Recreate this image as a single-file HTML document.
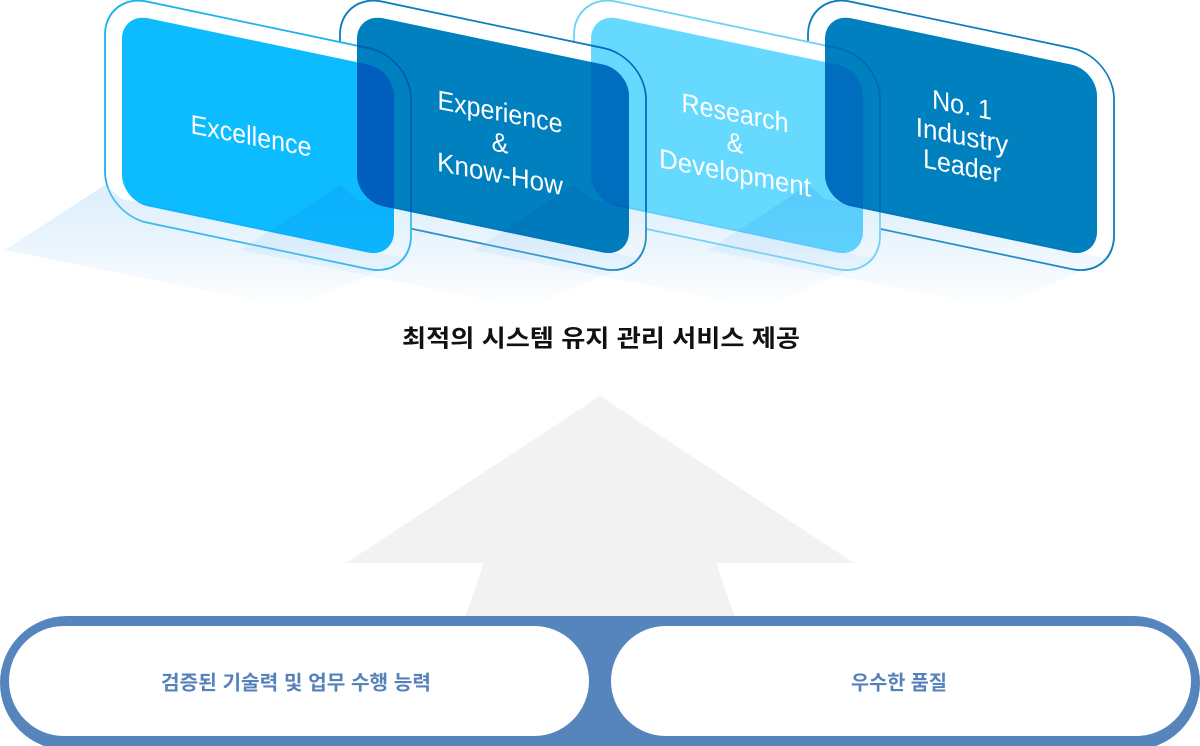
<!DOCTYPE html>
<html>
<head>
<meta charset="utf-8">
<style>
  html,body{margin:0;padding:0;background:#fff;}
  svg{display:block;}
  .ct{font-family:"Liberation Sans",Arial,sans-serif;font-size:25px;fill:#fff;}
  .kr{font-family:"Liberation Sans","Noto Sans CJK KR",sans-serif;font-weight:bold;}
</style>
</head>
<body>
<svg width="1200" height="746" viewBox="0 0 1200 746" xmlns="http://www.w3.org/2000/svg">
  <defs>
    <linearGradient id="sh" gradientUnits="userSpaceOnUse" x1="0" y1="185" x2="0" y2="310">
      <stop offset="0" stop-color="rgb(156,207,245)" stop-opacity="0.36"/>
      <stop offset="0.55" stop-color="rgb(156,207,245)" stop-opacity="0.18"/>
      <stop offset="1" stop-color="rgb(156,207,245)" stop-opacity="0"/>
    </linearGradient>
  </defs>

  <rect x="0" y="0" width="1200" height="746" fill="#ffffff"/>

  <!-- outlines (right to left so left cards sit on top) -->
  <g transform="translate(825,12.8) skewY(11.86)">
    <rect x="-17" y="-16.5" width="306" height="221" rx="42" ry="42" fill="#fff" stroke="#0B7DBD" stroke-width="1.8"/>
  </g>
  <g transform="translate(591,12.8) skewY(11.86)">
    <rect x="-17" y="-16.5" width="306" height="221" rx="42" ry="42" fill="#fff" stroke="#6DD2F5" stroke-width="1.8"/>
  </g>
  <g transform="translate(357,12.8) skewY(11.86)">
    <rect x="-17" y="-16.5" width="306" height="221" rx="42" ry="42" fill="#fff" stroke="#0B7DBD" stroke-width="1.8"/>
  </g>
  <g transform="translate(122,12.8) skewY(11.86)">
    <rect x="-17" y="-16.5" width="306" height="221" rx="42" ry="42" fill="#fff" stroke="#1AB2EE" stroke-width="1.8"/>
  </g>

  <!-- floor shadows -->
  <polygon points="105,185 122,199 407,259 292,308 5,250" fill="url(#sh)"/>
  <polygon points="340,185 357,199 642,259 527,308 240,250" fill="url(#sh)"/>
  <polygon points="574,185 591,199 876,259 761,308 474,250" fill="url(#sh)"/>
  <polygon points="808,185 825,199 1110,259 995,308 708,250" fill="url(#sh)"/>

  <!-- fills (multiply) -->
  <g transform="translate(122,12.8) skewY(11.86)" style="mix-blend-mode:multiply">
    <rect x="0" y="0" width="272" height="188" rx="26" ry="26" fill="#0DBCFF"/>
  </g>
  <g transform="translate(357,12.8) skewY(11.86)" style="mix-blend-mode:multiply">
    <rect x="0" y="0" width="272" height="188" rx="26" ry="26" fill="#0080BE"/>
  </g>
  <g transform="translate(591,12.8) skewY(11.86)" style="mix-blend-mode:multiply">
    <rect x="0" y="0" width="272" height="188" rx="26" ry="26" fill="#66D9FF"/>
  </g>
  <g transform="translate(825,12.8) skewY(11.86)" style="mix-blend-mode:multiply">
    <rect x="0" y="0" width="272" height="188" rx="26" ry="26" fill="#0080BE"/>
  </g>

  <!-- card texts -->
  <text class="ct" text-anchor="middle" transform="translate(251,145) skewY(11) scale(1,1.08)">Excellence</text>

  <text class="ct" text-anchor="middle" transform="translate(500,121) skewY(11) scale(1,1.08)">Experience</text>
  <text class="ct" text-anchor="middle" transform="translate(500,152) skewY(11) scale(1,1.08)">&amp;</text>
  <text class="ct" text-anchor="middle" transform="translate(500,183) skewY(11) scale(1.04,1.08)">Know-How</text>

  <text class="ct" text-anchor="middle" transform="translate(735,122) skewY(11) scale(1,1.08)">Research</text>
  <text class="ct" text-anchor="middle" transform="translate(735,152) skewY(11) scale(1,1.08)">&amp;</text>
  <text class="ct" text-anchor="middle" transform="translate(735,182) skewY(11) scale(1.03,1.08)">Development</text>

  <text class="ct" text-anchor="middle" transform="translate(962,114) skewY(11) scale(1,1.08)">No. 1</text>
  <text class="ct" text-anchor="middle" transform="translate(962,145) skewY(11) scale(1.04,1.08)">Industry</text>
  <text class="ct" text-anchor="middle" transform="translate(962,175) skewY(11) scale(1,1.08)">Leader</text>

  <!-- title -->
  <text class="kr" x="601" y="346.5" text-anchor="middle" font-size="24" fill="#111111" textLength="398" lengthAdjust="spacingAndGlyphs">최적의 시스템 유지 관리 서비스 제공</text>

  <!-- arrow -->
  <polygon points="600,396 854,563 716,563 736,620 464,620 484,563 346,563" fill="#F2F2F2"/>

  <!-- bottom pills -->
  <rect x="0" y="616" width="1200" height="134" rx="67" ry="67" fill="#5684BC"/>
  <rect x="9" y="626" width="580" height="110" rx="55" ry="55" fill="#ffffff"/>
  <rect x="611" y="626" width="580" height="110" rx="55" ry="55" fill="#ffffff"/>

  <text class="kr" x="296" y="689.5" text-anchor="middle" font-size="20" fill="#5682BC" textLength="270" lengthAdjust="spacingAndGlyphs">검증된 기술력 및 업무 수행 능력</text>
  <text class="kr" x="899" y="689.5" text-anchor="middle" font-size="20" fill="#5682BC" textLength="96" lengthAdjust="spacingAndGlyphs">우수한 품질</text>
</svg>
</body>
</html>
